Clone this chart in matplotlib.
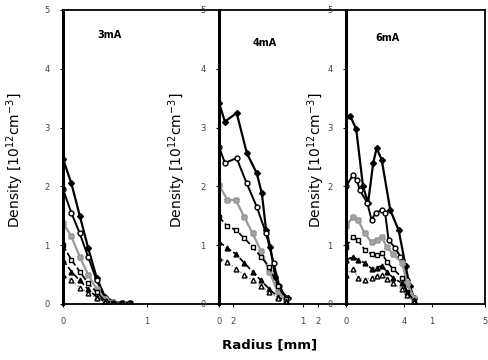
import matplotlib.pyplot as plt

# Dados (densidade em 10^12 cm^-3 vs raio em mm)
# 3 mA
r3 = [0, 0.1, 0.2, 0.3, 0.4, 0.5, 0.6, 0.7, 0.8]
d3_a = [2.47, 2.05, 1.5, 0.95, 0.45, 0.12, 0.04, 0.02, 0.02]
d3_b = [1.95, 1.55, 1.2, 0.8, 0.4, 0.1, 0.03, 0.02, 0.02]
d3_c = [1.38, 1.15, 0.8, 0.5, 0.25, 0.08, 0.03, 0.02, 0.02]
d3_d = [1.0, 0.75, 0.55, 0.35, 0.2, 0.05, 0.02, 0.02, 0.02]
d3_e = [0.75, 0.55, 0.4, 0.25, 0.12, 0.04, 0.02, 0.02, 0.02]
d3_f = [0.5, 0.4, 0.28, 0.18, 0.1, 0.04, 0.02, 0.02, 0.02]

# 4 mA
r4_a = [0, 0.07, 0.21, 0.33, 0.45, 0.51, 0.56, 0.61, 0.67, 0.72, 0.82]
d4_a = [3.42, 3.1, 3.25, 2.57, 2.22, 1.88, 1.26, 0.97, 0.46, 0.24, 0.1]
r4_b = [0, 0.07, 0.21, 0.33, 0.45, 0.56, 0.65, 0.72, 0.8]
d4_b = [2.67, 2.4, 2.48, 2.05, 1.65, 1.2, 0.7, 0.3, 0.1]
r4 = [0, 0.1, 0.2, 0.3, 0.4, 0.5, 0.6, 0.7, 0.8]
d4_c = [2.02, 1.77, 1.77, 1.48, 1.2, 0.9, 0.55, 0.2, 0.06]
d4_d = [1.48, 1.32, 1.26, 1.12, 0.97, 0.8, 0.63, 0.3, 0.08]
d4_e = [1.06, 0.95, 0.85, 0.7, 0.55, 0.4, 0.25, 0.12, 0.05]
d4_f = [0.78, 0.72, 0.6, 0.5, 0.4, 0.3, 0.2, 0.1, 0.04]

# 6 mA
r6_a = [0, 0.05, 0.12, 0.2, 0.26, 0.32, 0.36, 0.42, 0.52, 0.62, 0.7, 0.75, 0.8]
d6_a = [3.18, 3.2, 2.97, 2.0, 1.72, 2.4, 2.65, 2.45, 1.6, 1.25, 0.65, 0.3, 0.1]
r6_b = [0, 0.08, 0.13, 0.16, 0.25, 0.3, 0.35, 0.42, 0.46, 0.5, 0.58, 0.64, 0.72, 0.8]
d6_b = [2.0, 2.19, 2.1, 1.94, 1.72, 1.43, 1.55, 1.6, 1.55, 1.09, 0.95, 0.8, 0.4, 0.1]
r6 = [0, 0.08, 0.14, 0.22, 0.3, 0.36, 0.42, 0.48, 0.55, 0.66, 0.72, 0.8]
d6_c = [1.32, 1.48, 1.43, 1.2, 1.05, 1.09, 1.14, 0.97, 0.85, 0.7, 0.35, 0.1]
d6_d = [0.97, 1.14, 1.09, 0.92, 0.85, 0.83, 0.87, 0.72, 0.6, 0.45, 0.2, 0.05]
d6_e = [0.75, 0.8, 0.75, 0.7, 0.6, 0.62, 0.65, 0.55, 0.45, 0.35, 0.2, 0.06]
d6_f = [0.5, 0.6, 0.45, 0.41, 0.45, 0.48, 0.5, 0.42, 0.35, 0.25, 0.15, 0.04]

correntes = ["3mA", "4mA", "6mA"]
y_ticks = [0, 1, 2, 3, 4, 5]

# ticks do eixo x como aparecem (sobrepostos) no original
xticks = [[0, 1], [0, 0.17, 1.0, 1.18], [0, 0.68, 1.01, 1.635]]
xticklabels = [["0", "1"], ["0", "2", "1", "2"], ["0", "4", "1", "5"]]
xlims = [1.857, 1.512, 1.635]

estilos = [
    dict(color="black", marker="D", ms=3, mfc="black", lw=1.6),
    dict(color="black", marker="o", ms=3.5, mfc="white", lw=1.4),
    dict(color="#9a9a9a", marker="X", ms=4, mfc="#b0b0b0", lw=1.6),
    dict(color="black", marker="s", ms=3.2, mfc="white", lw=1.2, ls="--"),
    dict(color="black", marker="^", ms=3.5, mfc="black", lw=1.2, ls="--"),
    dict(color="#8a8a8a", marker="^", ms=3.5, mfc="white", mec="black", lw=1.0, ls=":"),
]

dados = [
    [(r3, d3_a), (r3, d3_b), (r3, d3_c), (r3, d3_d), (r3, d3_e), (r3, d3_f)],
    [(r4_a, d4_a), (r4_b, d4_b), (r4, d4_c), (r4, d4_d), (r4, d4_e), (r4, d4_f)],
    [(r6_a, d6_a), (r6_b, d6_b), (r6, d6_c), (r6, d6_d), (r6, d6_e), (r6, d6_f)],
]

fig = plt.figure(figsize=(4.89, 3.6), dpi=100)

posicoes = [[0.1288, 0.1556, 0.319, 0.8167],
            [0.4479, 0.1556, 0.2597, 0.8167],
            [0.7076, 0.1556, 0.2843, 0.8167]]
pos_titulo = [(0.218, 0.915), (0.268, 0.888), (0.209, 0.905)]

for i in range(3):
    ax = fig.add_axes(posicoes[i])
    for (x, y), st in zip(dados[i], estilos):
        ax.plot(x, y, **st)
    ax.set_xlim(0, xlims[i])
    ax.set_ylim(0, 5)
    ax.set_yticks(y_ticks)
    ax.set_yticklabels([str(v) for v in y_ticks], fontsize=6, color="#444444")
    ax.set_xticks(xticks[i])
    ax.set_xticklabels(xticklabels[i], fontsize=6, color="#444444")
    ax.tick_params(axis="both", length=2.5, width=0.8, pad=7)
    for s in ["top", "bottom", "right"]:
        ax.spines[s].set_linewidth(1.3)
    ax.spines["left"].set_linewidth(2.2)
    ax.patch.set_alpha(0)
    ax.text(pos_titulo[i][0], pos_titulo[i][1], correntes[i], transform=ax.transAxes,
            fontsize=7, fontweight="bold", ha="left", va="center")

# rótulos do eixo y (um por painel, sobrepostos ao painel anterior)
for xl in [15 / 489, 177 / 489, 316 / 489]:
    fig.text(xl, 0.556, "Density [10$^{12}$cm$^{-3}$]", rotation=90,
             ha="center", va="center", fontsize=10)

fig.text(270 / 489, 1 - 345 / 360, "Radius [mm]", ha="center", va="center",
         fontsize=9.5, fontweight="bold")

plt.savefig("out.png", dpi=100)
